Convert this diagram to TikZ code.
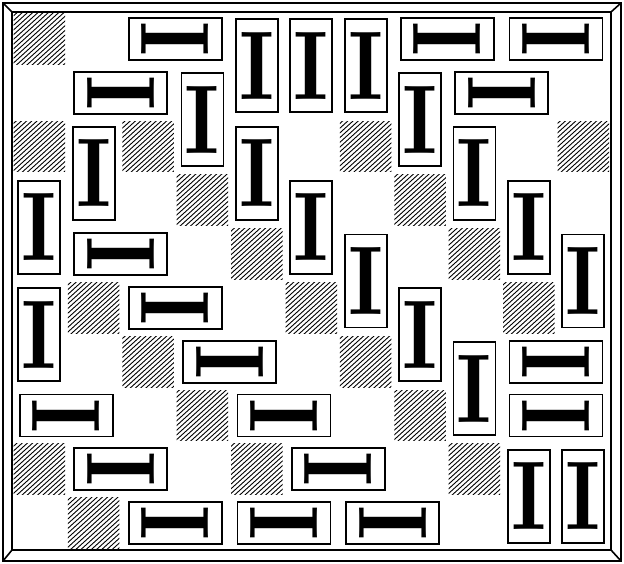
\documentclass[tikz,border=0pt]{standalone}
\usepackage{graphicx}
\tikzset{
  dom/.style={draw, line width=1.8pt, minimum width=42pt, minimum height=93pt, inner sep=0pt, outer sep=0pt},
  hdom/.style={dom, rotate=90},
  hatchline/.style={line width=0.9pt, black},
  frameline/.style={line width=1.6pt}
}
\newcommand\Iglyph{\resizebox{35pt}{67pt}{\bfseries I}}
\newcommand\hatchcell[2]{%
  \begin{scope}[shift={(#1,#2)}]
    \clip (1.5pt,-1.5pt) rectangle (53pt,-52.3pt);
    \foreach \k in {0,...,22} \draw[hatchline] (\k*5.2pt-64pt,-53.8pt) -- ++(64pt,58pt);
  \end{scope}}
\begin{document}
\begin{tikzpicture}[x=1pt,y=-1pt]
\useasboundingbox (0,0) rectangle (624,564);
% frame
\draw[frameline] (3,3) rectangle (621,561);
\draw[frameline] (12,12) rectangle (611,550);
\draw[frameline] (3,3) -- (12,12) (621,3) -- (611,12) (3,561) -- (12,550) (621,561) -- (611,550);
\begin{scope}[shift={(12pt,-12pt)}, x=54.4pt, y=-53.8pt]
  % hatched cells
  \foreach \c/\r in {0/0, 0/2, 2/2, 6/2, 10/2, 3/3, 7/3, 4/4, 8/4, 1/5, 5/5, 9/5, 2/6, 6/6, 3/7, 7/7, 0/8, 4/8, 8/8, 1/9}
    {\hatchcell{\c}{\r}}
  % vertical dominoes
  \node[dom] (v1) at (4.5,1) {\Iglyph};
  \node[dom] (v2) at (5.5,1) {\Iglyph};
  \node[dom] (v3) at (6.5,1) {\Iglyph};
  \node[dom] (v4) at (3.5,2) {\Iglyph};
  \node[dom] (v5) at (7.5,2) {\Iglyph};
  \node[dom] (v6) at (1.5,3) {\Iglyph};
  \node[dom] (v7) at (4.5,3) {\Iglyph};
  \node[dom] (v8) at (8.5,3) {\Iglyph};
  \node[dom] (v9) at (0.5,4) {\Iglyph};
  \node[dom] (v10) at (5.5,4) {\Iglyph};
  \node[dom] (v11) at (9.5,4) {\Iglyph};
  \node[dom] (v12) at (6.5,5) {\Iglyph};
  \node[dom] (v13) at (10.5,5) {\Iglyph};
  \node[dom] (v14) at (0.5,6) {\Iglyph};
  \node[dom] (v15) at (7.5,6) {\Iglyph};
  \node[dom] (v16) at (8.5,7) {\Iglyph};
  \node[dom] (v17) at (9.5,9) {\Iglyph};
  \node[dom] (v18) at (10.5,9) {\Iglyph};
  % horizontal dominoes
  \node[hdom] (h1) at (3,0.5) {\Iglyph};
  \node[hdom] (h2) at (8,0.5) {\Iglyph};
  \node[hdom] (h3) at (10,0.5) {\Iglyph};
  \node[hdom] (h4) at (2,1.5) {\Iglyph};
  \node[hdom] (h5) at (9,1.5) {\Iglyph};
  \node[hdom] (h6) at (2,4.5) {\Iglyph};
  \node[hdom] (h7) at (3,5.5) {\Iglyph};
  \node[hdom] (h8) at (4,6.5) {\Iglyph};
  \node[hdom] (h9) at (10,6.5) {\Iglyph};
  \node[hdom] (h10) at (1,7.5) {\Iglyph};
  \node[hdom] (h11) at (5,7.5) {\Iglyph};
  \node[hdom] (h12) at (10,7.5) {\Iglyph};
  \node[hdom] (h13) at (2,8.5) {\Iglyph};
  \node[hdom] (h14) at (6,8.5) {\Iglyph};
  \node[hdom] (h15) at (3,9.5) {\Iglyph};
  \node[hdom] (h16) at (5,9.5) {\Iglyph};
  \node[hdom] (h17) at (7,9.5) {\Iglyph};
\end{scope}
\end{tikzpicture}
\end{document}
